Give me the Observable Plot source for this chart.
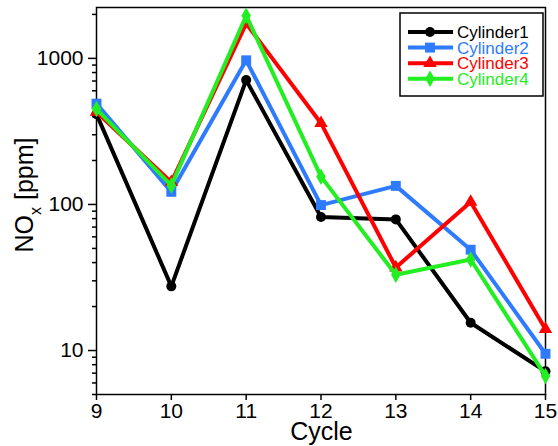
<!DOCTYPE html>
<html>
<head>
<meta charset="utf-8">
<script src="https://cdn.jsdelivr.net/npm/d3@7"></script>
<script src="https://cdn.jsdelivr.net/npm/@observablehq/plot@0.6"></script>
<style>
  html, body { margin: 0; padding: 0; background: white; }
  #chart { width: 558px; height: 446px; }
</style>
</head>
<body>
<div id="chart"></div>
<script>
const cycles = [9, 10, 11, 12, 13, 14, 15];
const seriesNames = ["Cylinder1", "Cylinder2", "Cylinder3", "Cylinder4"];
const cylinder1 = [415, 27.5, 710, 82, 79, 15.5, 7.2];
const cylinder2 = [490, 122, 970, 99, 134, 49, 9.5];
const cylinder3 = [430, 142, 1730, 360, 37, 104, 14];
const cylinder4 = [450, 135, 1960, 155, 33, 42, 6.7];
const seriesColors = ["#000000", "#2f7bff", "#ff0000", "#22ee22"];
const seriesSymbols = ["circle", "square", "triangle", "diamond"];
const majorTicks = [10, 100, 1000];
const minorTicks = [5, 6, 7, 8, 9, 20, 30, 40, 50, 60, 70, 80, 90, 200, 300, 400, 500, 600, 700, 800, 900, 2000];

const allSeries = [cylinder1, cylinder2, cylinder3, cylinder4];
const data = [];
allSeries.forEach((vals, i) => {
  vals.forEach((v, j) => data.push({series: seriesNames[i], cycle: cycles[j], value: v}));
});

const font = "'Liberation Sans', Arial, sans-serif";
const W = 558, H = 446, mL = 96, mR = 13, mT = 7, mB = 52;

const marks = [
  Plot.axisX({ticks: cycles, tickSize: 6, tickPadding: 3, fontSize: 21, label: null, tickFormat: d => String(d), strokeWidth: 1.5}),
  Plot.axisY({ticks: majorTicks, tickSize: 8, tickPadding: 5, fontSize: 21, label: null, tickFormat: d => String(d), strokeWidth: 1.5}),
  Plot.axisY({ticks: minorTicks, tickSize: 4, label: null, tickFormat: () => "", strokeWidth: 1.5}),
  Plot.frame({stroke: "black", strokeWidth: 1.5})
];
seriesNames.forEach((name) => {
  const d = data.filter(r => r.series === name);
  marks.push(Plot.line(d, {x: "cycle", y: "value", stroke: "series", strokeWidth: 4}));
  marks.push(Plot.dot(d, {x: "cycle", y: "value", symbol: "series", fill: "series", stroke: "none",
    r: name === "Cylinder2" ? 5.6 : 5}));
});

const chart = Plot.plot({
  width: W, height: H,
  marginLeft: mL, marginRight: mR, marginTop: mT, marginBottom: mB,
  x: {domain: [9, 15]},
  y: {type: "log", domain: [5, 2230]},
  color: {domain: seriesNames, range: seriesColors},
  symbol: {domain: seriesNames, range: seriesSymbols},
  style: {fontFamily: font, fontSize: "21px", color: "black", background: "white", overflow: "visible"},
  marks
});
document.getElementById("chart").appendChild(chart);

const svg = d3.select(chart);

// Axis titles
svg.append("text")
  .attr("x", (mL + (W - mR)) / 2 + 1).attr("y", 440)
  .attr("text-anchor", "middle")
  .attr("font-family", font).attr("font-size", 25).attr("fill", "black")
  .text("Cycle");

const yt = svg.append("text")
  .attr("transform", "translate(33,195) rotate(-90)")
  .attr("text-anchor", "middle")
  .attr("font-family", font).attr("font-size", 25).attr("fill", "black");
yt.append("tspan").text("NO");
yt.append("tspan").attr("font-size", 16).attr("dy", 8).text("x");
yt.append("tspan").attr("dy", -8).text(" [ppm]");

// Legend
const lg = svg.append("g");
lg.append("rect").attr("x", 400).attr("y", 13).attr("width", 143).attr("height", 83)
  .attr("fill", "white").attr("stroke", "black").attr("stroke-width", 1.5);
const symMap = {circle: d3.symbolCircle, square: d3.symbolSquare, triangle: d3.symbolTriangle, diamond: d3.symbolDiamond};
seriesNames.forEach((name, i) => {
  const y = 32 + i * 15.6;
  lg.append("line").attr("x1", 408).attr("x2", 453).attr("y1", y).attr("y2", y)
    .attr("stroke", seriesColors[i]).attr("stroke-width", 4);
  lg.append("path").attr("transform", `translate(430,${y})`)
    .attr("d", d3.symbol(symMap[seriesSymbols[i]], (i === 1 ? 5.6 : 5) ** 2 * Math.PI)())
    .attr("fill", seriesColors[i]);
  lg.append("text").attr("x", 457).attr("y", y).attr("dy", "0.35em")
    .attr("text-anchor", "start")
    .attr("font-family", font).attr("font-size", 17).attr("fill", seriesColors[i])
    .text(name);
});
</script>
</body>
</html>
